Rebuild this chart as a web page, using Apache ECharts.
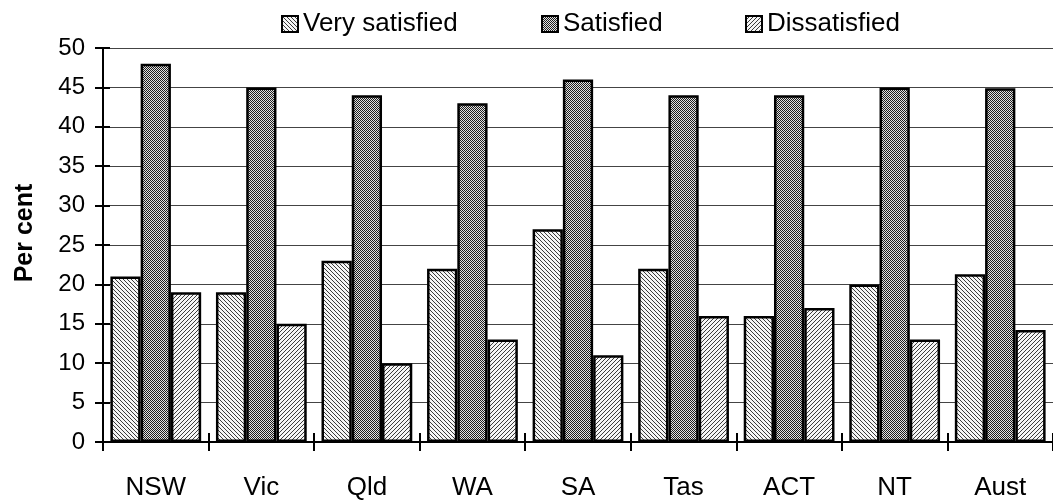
<!DOCTYPE html>
<html>
<head>
<meta charset="utf-8">
<script src="https://cdn.jsdelivr.net/npm/echarts@6/dist/echarts.min.js"></script>
<style>html,body{margin:0;padding:0;background:#fff;}#c{width:1053px;height:501px;}</style>
</head>
<body>
<div id="c"></div>
<script>
const categories = ['NSW','Vic','Qld','WA','SA','Tas','ACT','NT','Aust'];
const seriesNames = ['Very satisfied','Satisfied','Dissatisfied'];
const verySatisfied = [21,19,23,22,27,22,16,20,21.3];
const satisfied = [48,45,44,43,46,44,44,45,44.9];
const dissatisfied = [19,15,10,13,11,16,17,13,14.2];
const yTicks = [0,5,10,15,20,25,30,35,40,45,50];

function makePattern(kind){
  const c = document.createElement('canvas');
  const n = kind === 'check' ? 2 : 4;
  c.width = n; c.height = n;
  const g = c.getContext('2d');
  const img = g.createImageData(n,n);
  for(let y=0;y<n;y++){for(let x=0;x<n;x++){
    let dark;
    if(kind==='back') dark = (x===y);
    else if(kind==='fwd') dark = ((x+y)%n===n-1);
    else dark = ((x+y)%2===0);
    let v;
    if(kind==='check') v = dark ? 30 : 225;
    else v = dark ? 60 : 245;
    const i=(y*n+x)*4;
    img.data[i]=v;img.data[i+1]=v;img.data[i+2]=v;img.data[i+3]=255;
  }}
  g.putImageData(img,0,0);
  return {image:c, repeat:'repeat'};
}
const fills = [makePattern('back'), makePattern('check'), makePattern('fwd')];
const values = [verySatisfied, satisfied, dissatisfied];
const FONT = '"Liberation Sans", Arial, sans-serif';

const chart = echarts.init(document.getElementById('c'), null, {renderer:'canvas'});
const legendLefts = [281, 541, 745];
chart.setOption({
  animation:false,
  backgroundColor:'#fff',
  grid:{left:103, top:48, width:954, bottom:59, containLabel:false},
  legend: seriesNames.map((nm,i)=>({
    data:[nm], left:legendLefts[i], top:11, padding:0, itemWidth:16, itemHeight:16, icon:'rect',
    selectedMode:false,
    textStyle:{fontFamily:FONT, fontSize:26, color:'#000', padding:[0,0,0,0]}
  })),
  xAxis:[{
    type:'category', data:categories, position:'bottom',
    axisLine:{show:true, lineStyle:{color:'#000', width:2}},
    axisTick:{show:true, alignWithLabel:false, length:9, lineStyle:{color:'#000', width:2}},
    axisLabel:{fontFamily:FONT, fontSize:26, color:'#000', margin:33},
    splitLine:{show:false}
  },{
    type:'category', data:categories, position:'bottom',
    axisLine:{show:true, lineStyle:{color:'#000', width:2}},
    axisTick:{show:true, inside:true, length:9, lineStyle:{color:'#000', width:2}},
    axisLabel:{show:false}, splitLine:{show:false}, z:5
  }],
  yAxis:[{
    type:'value', min:yTicks[0], max:yTicks[yTicks.length-1], interval:yTicks[1]-yTicks[0],
    axisLine:{show:true, lineStyle:{color:'#000', width:2}},
    axisTick:{show:true, length:8, lineStyle:{color:'#000', width:2}},
    axisLabel:{fontFamily:FONT, fontSize:24, color:'#000', margin:18},
    splitLine:{show:true, lineStyle:{color:'#444', width:1}}
  },{
    type:'value', min:yTicks[0], max:yTicks[yTicks.length-1], interval:yTicks[1]-yTicks[0],
    position:'left', offset:0,
    axisLine:{show:true, lineStyle:{color:'#000', width:2}},
    axisTick:{show:true, inside:true, length:7, lineStyle:{color:'#000', width:2}},
    axisLabel:{show:false}, splitLine:{show:false}, z:5
  }],
  graphic:[{
    type:'text', x:25, y:233, rotation:Math.PI/2,
    style:{text:'Per cent', fontFamily:FONT, fontSize:25, fontWeight:'bold', fill:'#000',
      textAlign:'center', textVerticalAlign:'middle'}
  }],
  series: seriesNames.map((nm,i)=>({
    name:nm, type:'bar', data:values[i], xAxisIndex:0, yAxisIndex:0,
    barGap:'0%', barCategoryGap:'14%',
    itemStyle:{color:fills[i], borderColor:'#000', borderWidth:2.5},
    emphasis:{disabled:true}
  }))
});
</script>
</body>
</html>
